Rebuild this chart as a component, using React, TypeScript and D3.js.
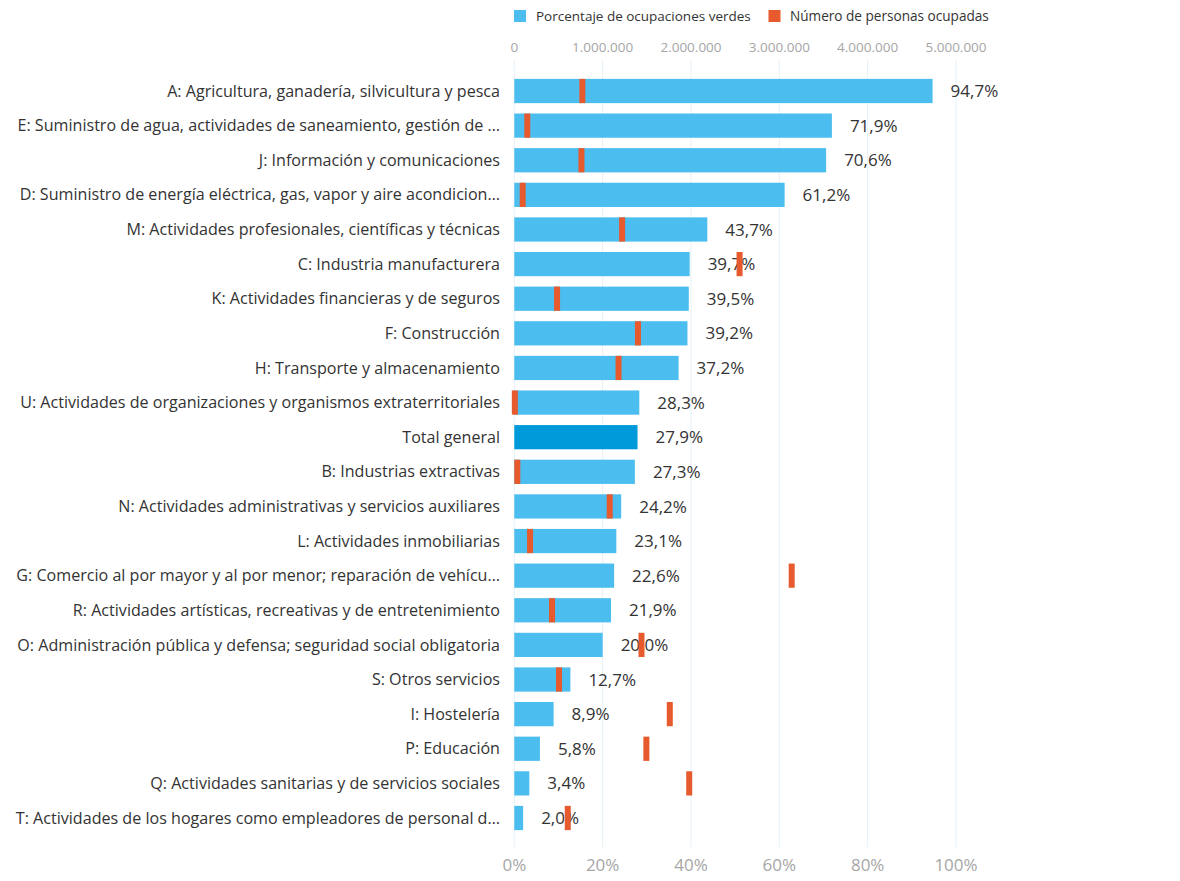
import { scaleBand, scaleLinear, formatLocale } from "d3";

const categories = [
  "A: Agricultura, ganadería, silvicultura y pesca",
  "E: Suministro de agua, actividades de saneamiento, gestión de …",
  "J: Información y comunicaciones",
  "D: Suministro de energía eléctrica, gas, vapor y aire acondicion…",
  "M: Actividades profesionales, científicas y técnicas",
  "C: Industria manufacturera",
  "K: Actividades financieras y de seguros",
  "F: Construcción",
  "H: Transporte y almacenamiento",
  "U: Actividades de organizaciones y organismos extraterritoriales",
  "Total general",
  "B: Industrias extractivas",
  "N: Actividades administrativas y servicios auxiliares",
  "L: Actividades inmobiliarias",
  "G: Comercio al por mayor y al por menor; reparación de vehícu…",
  "R: Actividades artísticas, recreativas y de entretenimiento",
  "O: Administración pública y defensa; seguridad social obligatoria",
  "S: Otros servicios",
  "I: Hostelería",
  "P: Educación",
  "Q: Actividades sanitarias y de servicios sociales",
  "T: Actividades de los hogares como empleadores de personal d…",
];

// share of green occupations (0-1)
const greenShare = [
  0.947, 0.719, 0.706, 0.612, 0.437, 0.397, 0.395, 0.392, 0.372, 0.283, 0.279,
  0.273, 0.242, 0.231, 0.226, 0.219, 0.2, 0.127, 0.089, 0.058, 0.034, 0.02,
];

// employed persons (null = outside the axis)
const employed: (number | null)[] = [
  770000, 147000, 760000, 95000, 1220000, 2550000, 484000, 1400000, 1180000,
  6000, null, 34000, 1080000, 178000, 3140000, 427000, 1440000, 506000,
  1760000, 1495000, 1980000, 605000,
];

const percentTicks = [0, 0.2, 0.4, 0.6, 0.8, 1];
const personTicks = [0, 1000000, 2000000, 3000000, 4000000, 5000000];

const totalLabel = "Total general";

const locale = formatLocale({
  decimal: ",",
  thousands: ".",
  grouping: [3],
  currency: ["", "€"],
});
const fmtThousands = locale.format(",d");
const fmtPct = locale.format(".1%");
const fmtTick = locale.format(".0%");

export default function App() {
  const width = 1180;
  const height = 881;
  const left = 514.3;
  const right = 956;
  const gridTop = 60;
  const gridBottom = 847;
  const font = "'Open Sans', 'Noto Sans', sans-serif";

  const x = scaleLinear().domain([0, 1]).range([left, right]);
  const xPeople = scaleLinear().domain([0, 5000000]).range([left, right]);
  const y = scaleBand()
    .domain(categories)
    .range([73.7, 835.3])
    .paddingInner(0.3)
    .paddingOuter(0.15);
  const bw = y.bandwidth();

  return (
    <svg
      width={width}
      height={height}
      viewBox={`0 0 ${width} ${height}`}
      style={{ position: "absolute", left: 0, top: 0, display: "block", background: "#fff" }}
      fontFamily={font}
    >
      {/* legend */}
      <rect x={514} y={10} width={12} height={12} fill="#4BBDEF" />
      <text x={536} y={21} fontSize={13.5} fill="#333">
        Porcentaje de ocupaciones verdes
      </text>
      <rect x={768.5} y={10} width={12} height={12} fill="#E65A2E" />
      <text x={790} y={21} fontSize={13.6} fill="#333">
        Número de personas ocupadas
      </text>

      {/* grid */}
      {percentTicks.map((t) => (
        <line
          key={t}
          x1={x(t)}
          x2={x(t)}
          y1={gridTop}
          y2={gridBottom}
          stroke="#e4f1f8"
          strokeWidth={1}
        />
      ))}

      {/* top axis */}
      {personTicks.map((t) => (
        <text
          key={t}
          x={xPeople(t)}
          y={52}
          textAnchor="middle"
          fontSize={13.5}
          fill="#a6a6a6"
        >
          {fmtThousands(t)}
        </text>
      ))}

      {/* bottom axis */}
      {percentTicks.map((t) => (
        <text
          key={t}
          x={x(t)}
          y={871}
          textAnchor="middle"
          fontSize={17}
          fill="#a6a6a6"
        >
          {fmtTick(t)}
        </text>
      ))}

      {categories.map((c, i) => {
        const yPos = y(c) ?? 0;
        const cy = yPos + bw / 2;
        const v = greenShare[i];
        const p = employed[i];
        return (
          <g key={c}>
            <text
              x={500}
              y={cy}
              dy="0.35em"
              textAnchor="end"
              fontSize={16.1}
              fill="#333"
            >
              {c}
            </text>
            <rect
              x={x(0)}
              y={yPos}
              width={x(v) - x(0)}
              height={bw}
              fill={c === totalLabel ? "#009ADA" : "#4BBDEF"}
            />
            <text
              x={x(v) + 18}
              y={cy}
              dy="0.36em"
              fontSize={17}
              fill="#333"
            >
              {fmtPct(v)}
            </text>
            {p !== null ? (
              <rect
                x={xPeople(p) - 3}
                y={yPos}
                width={6}
                height={bw}
                fill="#E65A2E"
              />
            ) : null}
          </g>
        );
      })}
    </svg>
  );
}
